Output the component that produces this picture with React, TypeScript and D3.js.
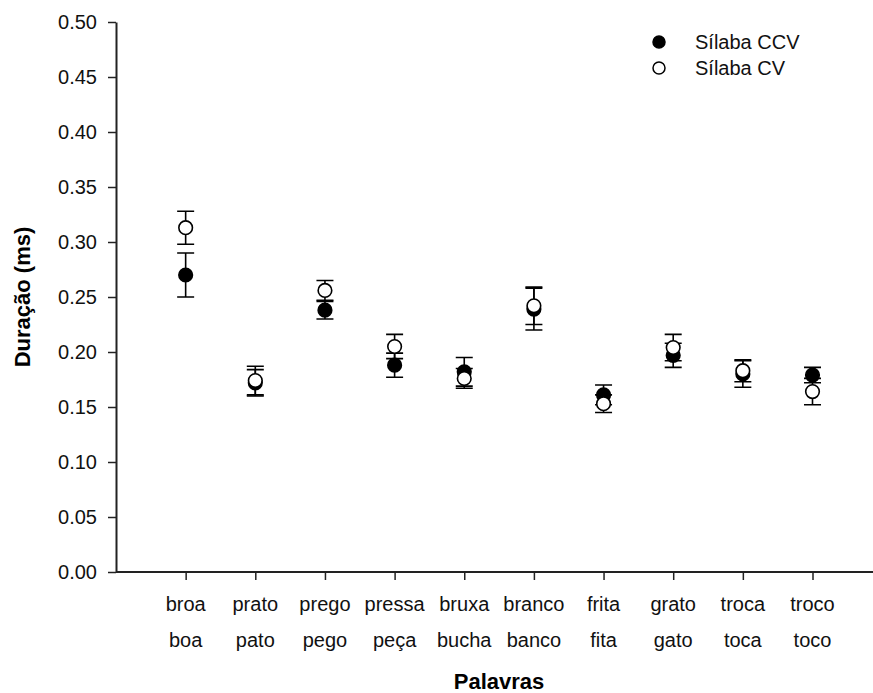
import React, { useRef, useEffect } from "react";
import * as d3 from "d3";

// words (two rows of labels under each tick)
const wordsCCV = ["broa", "prato", "prego", "pressa", "bruxa", "branco", "frita", "grato", "troca", "troco"];
const wordsCV = ["boa", "pato", "pego", "peça", "bucha", "banco", "fita", "gato", "toca", "toco"];

// duration means and error bars (s)
const ccvMean = [0.27, 0.172, 0.238, 0.188, 0.182, 0.239, 0.161, 0.197, 0.18, 0.179];
const ccvErr = [0.02, 0.012, 0.008, 0.011, 0.013, 0.019, 0.009, 0.011, 0.012, 0.007];
const cvMean = [0.313, 0.174, 0.256, 0.205, 0.176, 0.242, 0.153, 0.204, 0.183, 0.164];
const cvErr = [0.015, 0.013, 0.009, 0.011, 0.009, 0.017, 0.008, 0.012, 0.01, 0.012];

const yTicks = [0, 0.05, 0.1, 0.15, 0.2, 0.25, 0.3, 0.35, 0.4, 0.45, 0.5];

const App = () => {
  const svgRef = useRef<SVGSVGElement>(null);

  useEffect(() => {
    const width = 873;
    const height = 693;
    const margin = { top: 22, left: 116, bottom: 121 };
    const font = "'Liberation Sans', Arial, sans-serif";

    const svg = d3.select(svgRef.current);
    svg.selectAll("*").remove();
    svg.attr("width", width).attr("height", height);

    const x = d3.scaleLinear().domain([0, 11]).range([margin.left, margin.left + 69.65 * 11]);
    const y = d3.scaleLinear().domain([0, 0.5]).range([height - margin.bottom, margin.top]);

    // y axis
    const yAxis = svg
      .append("g")
      .attr("transform", `translate(${margin.left},0)`)
      .call(
        d3
          .axisLeft(y)
          .tickValues(yTicks)
          .tickFormat(d3.format(".2f"))
          .tickSize(8)
          .tickSizeOuter(0)
          .tickPadding(11)
      );

    // x axis
    const xAxis = svg
      .append("g")
      .attr("transform", `translate(0,${height - margin.bottom})`)
      .call(
        d3
          .axisBottom(x)
          .tickValues(d3.range(1, 11))
          .tickFormat(() => "")
          .tickSize(8)
          .tickSizeOuter(0)
      );
    xAxis.select(".domain").attr("d", `M${margin.left},0H${width}`);

    [yAxis, xAxis].forEach((g) => {
      g.select(".domain").attr("stroke", "#222").attr("stroke-width", 2);
      g.selectAll(".tick line").attr("stroke", "#222").attr("stroke-width", 1.5);
      g.selectAll("text").attr("font-family", font).attr("font-size", 20).attr("fill", "#111");
    });

    // two-line word labels
    const labels = svg.append("g").attr("font-family", font).attr("font-size", 20).attr("fill", "#111").attr("text-anchor", "middle");
    labels
      .selectAll(".w1")
      .data(wordsCCV)
      .join("text")
      .attr("x", (_, i) => x(i + 1))
      .attr("y", 611)
      .text((d) => d);
    labels
      .selectAll(".w2")
      .data(wordsCV)
      .join("text")
      .attr("x", (_, i) => x(i + 1))
      .attr("y", 647)
      .text((d) => d);

    // axis titles
    svg
      .append("text")
      .attr("x", 499)
      .attr("y", 689)
      .attr("text-anchor", "middle")
      .attr("font-family", font)
      .attr("font-weight", "bold")
      .attr("font-size", 22)
      .text("Palavras");

    svg
      .append("text")
      .attr("transform", `translate(30,${(margin.top + height - margin.bottom) / 2}) rotate(-90)`)
      .attr("text-anchor", "middle")
      .attr("font-family", font)
      .attr("font-weight", "bold")
      .attr("font-size", 22)
      .text("Duração (ms)");

    // series: CCV (filled) first, CV (open) on top
    const series = [
      { mean: ccvMean, err: ccvErr, fill: "#000" },
      { mean: cvMean, err: cvErr, fill: "#fff" },
    ];

    const cap = 8.5;
    series.forEach((s) => {
      const g = svg.append("g");
      const pts = s.mean.map((m, i) => ({ i, m, e: s.err[i] }));

      g.selectAll(".bar")
        .data(pts)
        .join("path")
        .attr("fill", "none")
        .attr("stroke", "#000")
        .attr("stroke-width", 1.6)
        .attr("d", (d) => {
          const cx = x(d.i + 1);
          const y0 = y(d.m - d.e);
          const y1 = y(d.m + d.e);
          return `M${cx},${y0}V${y1}M${cx - cap},${y1}H${cx + cap}M${cx - cap},${y0}H${cx + cap}`;
        });

      g.selectAll("circle")
        .data(pts)
        .join("circle")
        .attr("cx", (d) => x(d.i + 1))
        .attr("cy", (d) => y(d.m))
        .attr("r", 6.8)
        .attr("fill", s.fill)
        .attr("stroke", "#000")
        .attr("stroke-width", 1.6);
    });

    // legend
    const legend = svg.append("g").attr("font-family", font).attr("font-size", 20).attr("fill", "#111");
    const items = [
      { label: "Sílaba CCV", fill: "#000", cy: 42 },
      { label: "Sílaba CV", fill: "#fff", cy: 68 },
    ];
    items.forEach((it) => {
      legend
        .append("circle")
        .attr("cx", 659)
        .attr("cy", it.cy)
        .attr("r", 6)
        .attr("fill", it.fill)
        .attr("stroke", "#000")
        .attr("stroke-width", 1.5);
      legend
        .append("text")
        .attr("x", 695)
        .attr("y", it.cy + 7)
        .text(it.label);
    });
  }, []);

  return <svg ref={svgRef} style={{ position: "absolute", left: 0, top: 0 }}></svg>;
};

export default App;
